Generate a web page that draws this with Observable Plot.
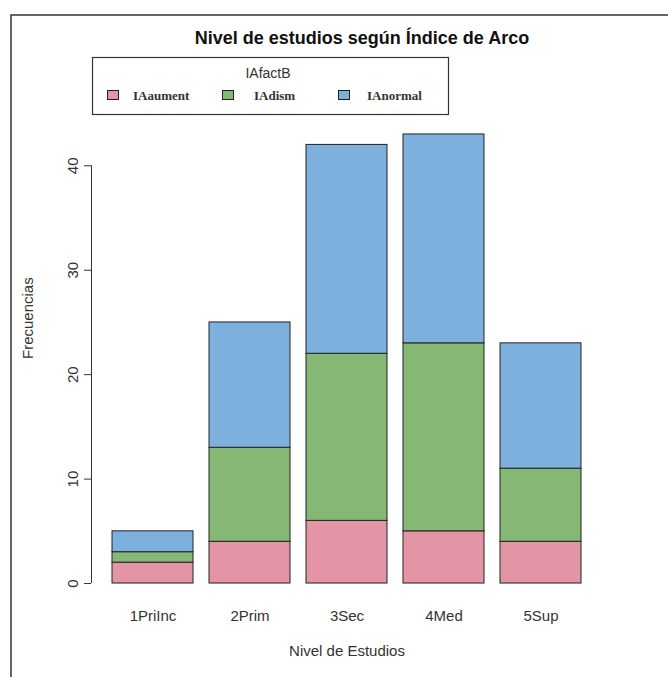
<!DOCTYPE html>
<html><head><meta charset="utf-8">
<script src="https://cdn.jsdelivr.net/npm/d3@7"></script>
<script src="https://cdn.jsdelivr.net/npm/@observablehq/plot@0.6"></script>
<style>body{margin:0;background:#fff} svg{display:block}</style>
</head><body><div id="chart"></div>
<script>
const categories = ["1PriInc", "2Prim", "3Sec", "4Med", "5Sup"];
const series = ["IAaument", "IAdism", "IAnormal"];
const IAaument = [2, 4, 6, 5, 4];
const IAdism = [1, 9, 16, 18, 7];
const IAnormal = [2, 12, 20, 20, 12];
const colors = ["#E495A5", "#86B875", "#7DB0DD"];
const yTicks = [0, 10, 20, 30, 40];
const title = "Nivel de estudios según Índice de Arco";
const xLabel = "Nivel de Estudios";
const yLabel = "Frecuencias";
const legendTitle = "IAfactB";

const values = [IAaument, IAdism, IAnormal];
const data = [];
categories.forEach((c, i) => series.forEach((s, j) => data.push({cat: c, serie: s, n: values[j][i]})));

const W = 668, H = 677, mL = 91, mR = 66, mT = 116, mB = 76;
const maxTotal = d3.max(categories, (c, i) => d3.sum(values, v => v[i]));
const pad = maxTotal * 0.04;
const sans = "'Liberation Sans', Arial, sans-serif";

const chart = Plot.plot({
  width: W, height: H,
  marginLeft: mL, marginRight: mR, marginTop: mT, marginBottom: mB,
  style: {fontFamily: sans, fontSize: "15px", color: "#333", background: "#fff"},
  x: {domain: categories, paddingInner: 0.2 / 1.2, paddingOuter: 0.232 / 1.2, label: null, axis: null},
  y: {domain: [-pad, maxTotal + pad], label: null, axis: null},
  color: {domain: series, range: colors},
  marks: [
    Plot.barY(data, {x: "cat", y: "n", fill: "serie", stroke: "#222", strokeWidth: 1}),
    Plot.axisY(yTicks, {tickSize: 7, tickPadding: 7, tickRotate: -90, label: null, stroke: "#333"}),
    Plot.axisX({tickSize: 0, tickPadding: 9, label: null}),
    Plot.text([yLabel], {frameAnchor: "left", dx: -63, rotate: -90, text: d => d}),
    Plot.text([xLabel], {frameAnchor: "bottom", dy: 54, text: d => d}),
    Plot.text([title], {frameAnchor: "top", dy: -85, dx: 15, fontWeight: "bold", fontSize: 18, fill: "#111", text: d => d})
  ]
});
document.getElementById("chart").append(chart);

const svg = d3.select(chart);
const y = chart.scale("y");
// y axis line over the tick range
svg.append("line")
  .attr("x1", mL + 0.5).attr("x2", mL + 0.5)
  .attr("y1", y.apply(d3.min(yTicks))).attr("y2", y.apply(d3.max(yTicks)))
  .attr("stroke", "#333");

// outer border (top and left)
svg.append("path")
  .attr("d", `M11,${H} V15 H${W}`)
  .attr("fill", "none").attr("stroke", "#333").attr("stroke-width", 1.5);

// legend
const lg = svg.append("g");
lg.append("rect").attr("x", 92.5).attr("y", 57.5).attr("width", 356).attr("height", 57)
  .attr("fill", "#fff").attr("stroke", "#333").attr("stroke-width", 1.2);
lg.append("text").attr("x", 268).attr("y", 73).attr("dy", "0.35em")
  .attr("text-anchor", "middle").attr("font-family", sans).attr("font-size", 14)
  .attr("fill", "#333").text(legendTitle);
const boxX = [107, 222, 338], labX = [133, 254, 367];
series.forEach((s, j) => {
  lg.append("rect").attr("x", boxX[j] + 0.5).attr("y", 90.5).attr("width", 11).attr("height", 9)
    .attr("fill", colors[j]).attr("stroke", "#222");
  lg.append("text").attr("x", labX[j]).attr("y", 95).attr("dy", "0.35em")
    .attr("text-anchor", "start")
    .attr("font-family", "'Liberation Serif', 'Times New Roman', serif").attr("font-size", 13)
    .attr("font-weight", "bold").attr("fill", "#333").text(s);
});
</script>
</body></html>
